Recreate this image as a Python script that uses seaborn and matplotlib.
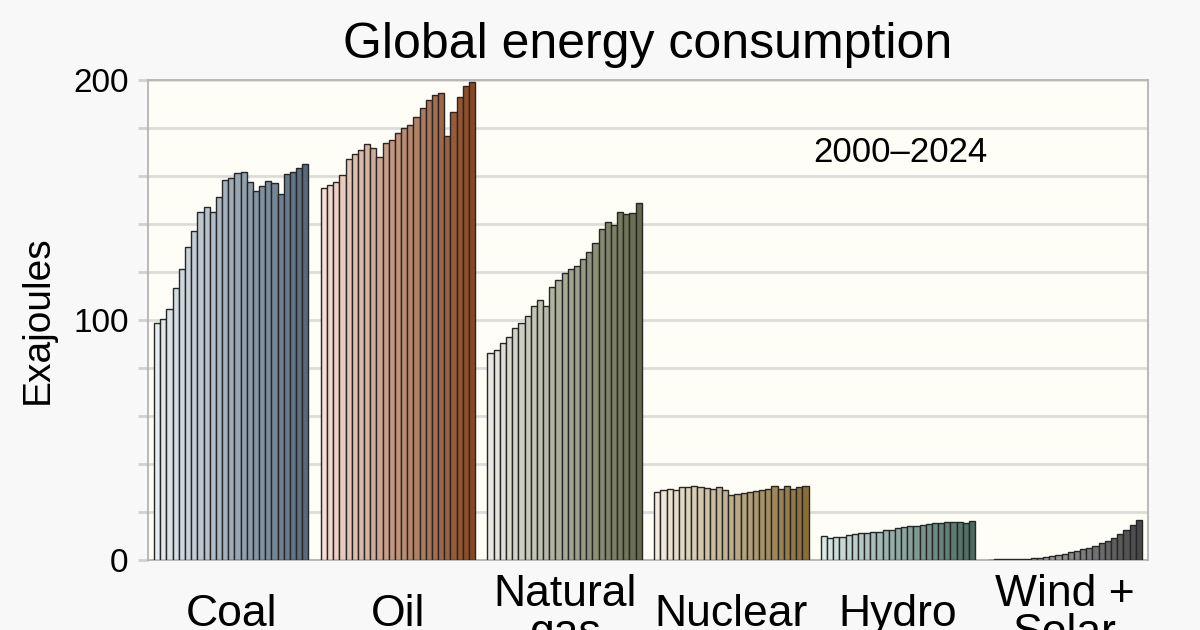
import matplotlib
matplotlib.use("Agg")
import matplotlib.pyplot as plt
from matplotlib.colors import to_rgb
import seaborn as sns
import pandas as pd
import numpy as np

years = [str(y) for y in range(2000, 2025)]
sources = ["Coal", "Oil", "Natural\ngas", "Nuclear", "Hydro", "Wind +\nSolar"]

coal = [98.9, 100.5, 104.4, 113.5, 121.4, 130.4, 137.2, 144.9, 147.1, 144.9, 151.4, 158.5, 159.0,
        161.1, 161.7, 157.4, 153.9, 155.7, 158.1, 157.1, 152.4, 160.8, 161.7, 163.2, 165.1]
oil = [155.0, 156.3, 157.4, 160.6, 167.2, 169.3, 170.8, 173.2, 171.8, 167.9, 173.6, 175.0, 177.8,
       179.9, 181.3, 184.7, 188.3, 191.8, 193.9, 194.4, 176.8, 186.7, 192.9, 197.5, 199.0]
gas = [86.4, 87.6, 90.3, 92.8, 96.5, 98.9, 101.5, 105.7, 108.3, 105.8, 113.9, 116.7, 119.7,
       121.4, 122.4, 125.3, 128.2, 131.9, 137.9, 140.7, 139.4, 144.9, 144.3, 144.6, 148.8]
nuclear = [28.3, 29.2, 29.6, 29.0, 30.3, 30.3, 30.8, 30.3, 30.0, 29.6, 30.6, 29.2, 27.1,
           27.5, 27.9, 28.2, 28.6, 29.0, 29.6, 30.7, 29.6, 30.8, 29.4, 30.3, 31.0]
hydro = [9.9, 9.3, 9.4, 9.4, 10.3, 10.8, 11.3, 11.4, 11.8, 11.8, 12.5, 12.6, 13.3,
         13.9, 14.2, 14.2, 14.6, 14.9, 15.3, 15.4, 15.8, 15.7, 15.7, 15.4, 16.3]
wind_solar = [0.2, 0.25, 0.3, 0.35, 0.42, 0.5, 0.6, 0.7, 0.97, 1.25, 1.67, 2.08, 2.64,
              3.19, 3.75, 4.44, 5.14, 5.97, 6.94, 7.92, 9.03, 10.7, 12.5, 14.4, 16.8]

# light -> dark shade for each source
shade_light = ["#e6edf2", "#f5ddd3", "#e9e9e1", "#f3ecde", "#d9e8e5", "#d4d4d4"]
shade_dark = ["#566a7e", "#8a4822", "#656a4b", "#8a6d37", "#4a6a60", "#484848"]

rows = []
for src, vals in zip(sources, [coal, oil, gas, nuclear, hydro, wind_solar]):
    for yr, v in zip(years, vals):
        rows.append({"source": src, "year": yr, "EJ": v})
df = pd.DataFrame(rows)

plt.rcParams["font.family"] = ["Liberation Sans", "DejaVu Sans"]

fig = plt.figure(figsize=(12, 6.3), dpi=100, facecolor="#f8f8f8")
ax = fig.add_axes([0.1233, 0.1111, 0.8334, 0.7619])
ax.set_facecolor("#fefef7")

n_years = len(years)
group_w = n_years / (n_years + 2)
sns.barplot(data=df, x="source", y="EJ", hue="year", order=sources, hue_order=years,
            width=group_w, errorbar=None, legend=False, ax=ax,
            edgecolor="#262626", linewidth=1.0, palette=["#888888"] * n_years)

slot = group_w / n_years
for bar in ax.patches:
    xc = bar.get_x() + bar.get_width() / 2
    i = int(round(xc))
    j = int(round((xc - i + group_w / 2) / slot - 0.5))
    j = min(max(j, 0), n_years - 1)
    t = j / (n_years - 1)
    c0 = np.array(to_rgb(shade_light[i]))
    c1 = np.array(to_rgb(shade_dark[i]))
    bar.set_facecolor(c0 + (c1 - c0) * t)
    bar.set_zorder(3)

ax.set_xlim(-0.5, len(sources) - 0.5)
ax.set_ylim(0, 200)
ax.set_yticks([0, 100, 200])
ax.set_yticks(np.arange(0, 201, 20), minor=True)
ax.grid(axis="y", which="both", color="#dcdcdc", linewidth=2, zorder=0)
ax.set_axisbelow(True)
ax.tick_params(axis="y", which="both", length=7, width=2, color="#d0d0d0",
               labelsize=24, pad=7)
ax.tick_params(axis="x", length=0, labelsize=32, pad=39)
plt.setp(ax.get_xticklabels(), va="center", linespacing=0.95)
for s in ax.spines.values():
    s.set_color("#b4b4b4")
    s.set_linewidth(1.3)

ax.set_xlabel("")
ax.set_ylabel("Exajoules", fontsize=28)
ax.yaxis.set_label_coords(-0.092, 0.5)
ax.set_title("Global energy consumption", fontsize=36, pad=16)
ax.text(0.752, 0.848, "2000\u20132024", transform=ax.transAxes, fontsize=25,
        ha="center", va="center")

fig.savefig("out.png", dpi=100, facecolor=fig.get_facecolor())
